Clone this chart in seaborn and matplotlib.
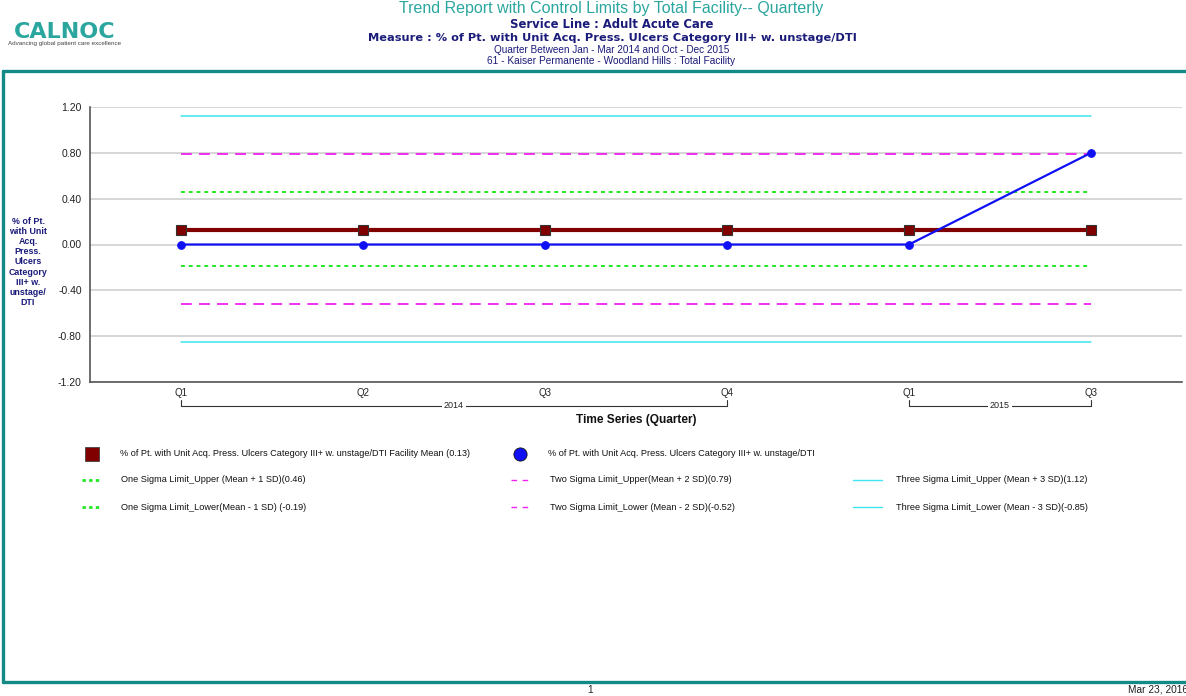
import matplotlib
matplotlib.use('Agg')
import matplotlib.pyplot as plt
import matplotlib.ticker as mticker
from matplotlib.lines import Line2D
import matplotlib.transforms as mtransforms
import seaborn as sns
import pandas as pd
import numpy as np

# ---- data ----
quarters = ['Q1', 'Q2', 'Q3', 'Q4', 'Q1', 'Q3']
years = ['2014', '2014', '2014', '2014', '2015', '2015']
pct_values = [0.00, 0.00, 0.00, 0.00, 0.00, 0.80]
facility_mean = 0.13
one_sd_upper, one_sd_lower = 0.46, -0.19
two_sd_upper, two_sd_lower = 0.79, -0.52
three_sd_upper, three_sd_lower = 1.12, -0.85
y_ticks = [-1.20, -0.80, -0.40, 0.00, 0.40, 0.80, 1.20]

COLORS = {
    'teal': '#138a85',
    'title': '#2aa69e',
    'navy': '#1b1b7a',
    'mean': '#800000',
    'series': '#1010f5',
    'one': '#22e822',
    'two': '#f020f0',
    'three': '#3ee4ee',
    'grid': '#d6d6d6',
    'spine': '#555555',
}

W, H = 1186, 696
sns.set_style('white')
plt.rcParams['font.family'] = ['Liberation Sans', 'DejaVu Sans']

fig = plt.figure(figsize=(W / 100, H / 100), dpi=100, facecolor='white')


def fx(px):
    return px / W


def fy(py):
    return 1 - py / H


ax = fig.add_axes([fx(90), fy(382), fx(1182) - fx(90), fy(107) - fy(382)])

df = pd.DataFrame({'pos': np.arange(len(quarters)), 'quarter': quarters,
                   'year': years, 'value': pct_values})
df['mean'] = facility_mean

limits = [
    (three_sd_upper, COLORS['three'], '-', 1.1),
    (three_sd_lower, COLORS['three'], '-', 1.1),
    (two_sd_upper, COLORS['two'], (0, (6, 4)), 1.3),
    (two_sd_lower, COLORS['two'], (0, (6, 4)), 1.3),
    (one_sd_upper, COLORS['one'], (0, (2, 2)), 1.4),
    (one_sd_lower, COLORS['one'], (0, (2, 2)), 1.4),
]
for val, col, ls, lw in limits:
    sns.lineplot(x=df['pos'], y=[val] * len(df), ax=ax, color=col,
                 linestyle=ls, linewidth=lw)

sns.lineplot(data=df, x='pos', y='mean', ax=ax, color=COLORS['mean'],
             linewidth=3, marker='s', markersize=7, markeredgecolor='#333333',
             markeredgewidth=0.8)
sns.lineplot(data=df, x='pos', y='value', ax=ax, color=COLORS['series'],
             linewidth=1.6, marker='o', markersize=5.5,
             markeredgecolor=COLORS['series'])

ax.set_xlim(-0.5, len(quarters) - 0.5)
ax.set_ylim(-1.2, 1.2)
ax.set_yticks(y_ticks)
ax.yaxis.set_major_formatter(mticker.FormatStrFormatter('%.2f'))
ax.grid(axis='y', color=COLORS['grid'], linewidth=1.4)
ax.set_axisbelow(True)
for s in ['top', 'right']:
    ax.spines[s].set_visible(False)
for s in ['left', 'bottom']:
    ax.spines[s].set_color(COLORS['spine'])
    ax.spines[s].set_linewidth(1.2)
ax.tick_params(axis='y', labelsize=7.5, length=3, width=0.8,
               color=COLORS['spine'], pad=3, labelcolor='#222222')
ax.set_xticks(df['pos'])
ax.set_xticklabels(quarters)
ax.tick_params(axis='x', labelsize=7, length=0, pad=4, labelcolor='#222222')
ax.set_xlabel('')
ax.set_ylabel('')

# year brackets under the quarter labels
trans = mtransforms.blended_transform_factory(ax.transData, ax.transAxes)
yb = (382 - 406) / 275
yt = (382 - 400) / 275
for yr in ['2014', '2015']:
    sel = df[df['year'] == yr]['pos']
    x0, x1 = sel.min(), sel.max()
    ax.plot([x0, x0, x1, x1], [yt, yb, yb, yt], color='#333333', lw=0.8,
            transform=trans, clip_on=False)
    ax.text((x0 + x1) / 2, yb, yr, transform=trans, ha='center', va='center',
            fontsize=6.5, color='#222222',
            bbox=dict(facecolor='white', edgecolor='none', pad=1.2))

fig.text(fx(636), fy(420), 'Time Series (Quarter)', ha='center', va='center',
         fontsize=8.6, fontweight='bold', color='#111111')

# y label
fig.text(fx(28), fy(262),
         '% of Pt.\nwith Unit\nAcq.\nPress.\nUlcers\nCategory\nIII+ w.\nunstage/\nDTI',
         ha='center', va='center', fontsize=6.4, fontweight='bold',
         color=COLORS['navy'], linespacing=1.15)

# header
fig.text(fx(65), fy(32), 'CALNOC', ha='center', va='center', fontsize=16,
         fontweight='bold', color=COLORS['title'], family='DejaVu Sans')
fig.text(fx(65), fy(43), 'Advancing global patient care excellence',
         ha='center', va='center', fontsize=4.5, color='#444444')
fig.text(fx(611), fy(9), 'Trend Report with Control Limits by Total Facility-- Quarterly',
         ha='center', va='center', fontsize=11.5, color=COLORS['title'])
fig.text(fx(612), fy(25), 'Service Line : Adult Acute Care', ha='center',
         va='center', fontsize=8.4, fontweight='bold', color=COLORS['navy'],
         family='DejaVu Sans')
fig.text(fx(612), fy(38),
         'Measure : % of Pt. with Unit Acq. Press. Ulcers Category III+ w. unstage/DTI',
         ha='center', va='center', fontsize=8.2, fontweight='bold',
         color=COLORS['navy'], family='DejaVu Sans')
fig.text(fx(612), fy(50), 'Quarter Between Jan - Mar 2014 and Oct - Dec 2015',
         ha='center', va='center', fontsize=7.2, color=COLORS['navy'])
fig.text(fx(611), fy(61), '61 - Kaiser Permanente - Woodland Hills : Total Facility',
         ha='center', va='center', fontsize=7.3, color=COLORS['navy'])

# frame
frame_kw = dict(color=COLORS['teal'], lw=2.4, transform=fig.transFigure)
fig.add_artist(Line2D([fx(3), 1.0], [fy(71), fy(71)], **frame_kw))
fig.add_artist(Line2D([fx(3), fx(3)], [fy(71), fy(682)], **frame_kw))
fig.add_artist(Line2D([fx(3), 1.0], [fy(682), fy(682)], **frame_kw))

# footer
fig.text(fx(590), fy(690), '1', ha='center', va='center', fontsize=7.3, color='#222222')
fig.text(fx(1128), fy(690), 'Mar 23, 2016', ha='left', va='center', fontsize=7.3,
         color='#222222')

# manual legend
leg_fs = 6.6
fig.add_artist(Line2D([fx(92)], [fy(454)], marker='s', markersize=10,
                      color=COLORS['mean'], markeredgecolor='#444444',
                      markeredgewidth=0.6, transform=fig.transFigure))
fig.text(fx(120), fy(454),
         '% of Pt. with Unit Acq. Press. Ulcers Category III+ w. unstage/DTI Facility Mean (0.13)',
         va='center', fontsize=leg_fs, color='#111111')
fig.add_artist(Line2D([fx(520)], [fy(454)], marker='o', markersize=9.5,
                      color=COLORS['series'], markeredgecolor='#111111',
                      markeredgewidth=0.6, transform=fig.transFigure))
fig.text(fx(548), fy(454),
         '% of Pt. with Unit Acq. Press. Ulcers Category III+ w. unstage/DTI',
         va='center', fontsize=leg_fs, color='#111111')

legend_rows = [
    (480, [(82, 102, COLORS['one'], (0, (1.2, 1.2)), 2.0, 121,
            'One Sigma Limit_Upper (Mean + 1 SD)(%.2f)' % one_sd_upper),
           (511, 530, COLORS['two'], (0, (4, 4)), 1.0, 550,
            'Two Sigma Limit_Upper(Mean + 2 SD)(%.2f)' % two_sd_upper),
           (853, 882, COLORS['three'], '-', 1.0, 896,
            'Three Sigma Limit_Upper (Mean + 3 SD)(%.2f)' % three_sd_upper)]),
    (507, [(82, 102, COLORS['one'], (0, (1.2, 1.2)), 2.0, 121,
            'One Sigma Limit_Lower(Mean - 1 SD) (%.2f)' % one_sd_lower),
           (511, 530, COLORS['two'], (0, (4, 4)), 1.0, 550,
            'Two Sigma Limit_Lower (Mean - 2 SD)(%.2f)' % two_sd_lower),
           (853, 882, COLORS['three'], '-', 1.0, 896,
            'Three Sigma Limit_Lower (Mean - 3 SD)(%.2f)' % three_sd_lower)]),
]
for ypx, items in legend_rows:
    for x0, x1, col, ls, lw, tx, label in items:
        fig.add_artist(Line2D([fx(x0), fx(x1)], [fy(ypx), fy(ypx)], color=col,
                              linestyle=ls, lw=lw, transform=fig.transFigure))
        fig.text(fx(tx), fy(ypx), label, va='center', fontsize=leg_fs,
                 color='#111111')

fig.savefig('out.png', dpi=100, facecolor='white')
plt.close(fig)
